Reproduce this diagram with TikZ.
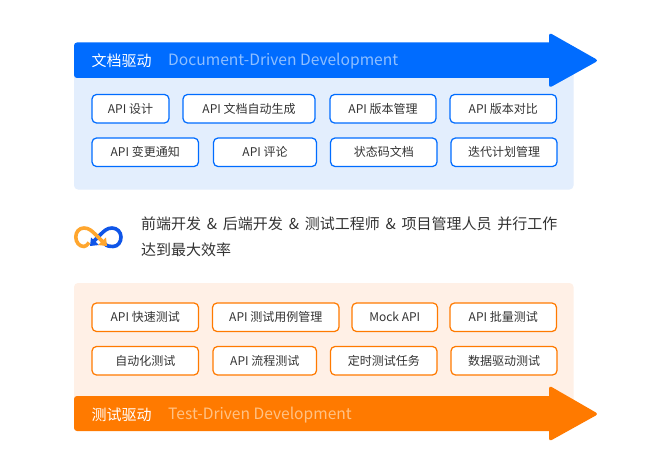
\documentclass[tikz,border=0pt]{standalone}
\usepackage{fontspec}
\setmainfont{Noto Sans CJK SC}
\usetikzlibrary{arrows.meta}
\definecolor{bl}{HTML}{006CFF}
\definecolor{or}{HTML}{FF7A00}
\definecolor{blp}{HTML}{E3EEFD}
\definecolor{orp}{HTML}{FFF0E6}
\definecolor{txt}{HTML}{333333}
\definecolor{ico}{HTML}{FFA62E}
\definecolor{icb}{HTML}{0F55E8}
\definecolor{bsub}{HTML}{8FBFFF}
\definecolor{osub}{HTML}{FFC285}
\tikzset{
 chip/.style={draw=#1,line width=1.25pt,fill=white,rounded corners=4.5pt,inner sep=0pt,
   font=\fontsize{12}{14}\selectfont,text=txt,anchor=center},
 headcn/.style={text=white,font=\fontsize{15}{18}\selectfont,inner sep=0pt,anchor=west},
 heade/.style={text=#1,font=\fontsize{15.6}{18}\selectfont,inner sep=0pt,anchor=west},
 body/.style={text=txt,font=\fontsize{15}{18}\selectfont,inner sep=0pt,anchor=west},
}
\newcommand{\wsp}{\hspace{5.8pt}}
\newcommand{\chipbox}[7]{% name colour x0 x1 y0 y1 text
  \node[chip=#2,minimum width=#4pt-#3pt,minimum height=#6pt-#5pt] (#1) at ({(#3+#4)/2},{(#5+#6)/2}) {\raisebox{-1.3pt}{#7}};}
\begin{document}
\begin{tikzpicture}[x=1pt,y=-1pt]
\useasboundingbox (0,0) rectangle (669,476);
\fill[white] (0,0) rectangle (669,476);
% panels
\fill[blp,rounded corners=4pt] (74,70) rectangle (573.5,189.5);
\fill[orp,rounded corners=4pt] (74,283) rectangle (573.5,405);
% arrows
\fill[bl,rounded corners=3pt] (80,42.5) -- (74,42.5) -- (74,78) -- (80,78) [sharp corners] -- (549,78)
  [rounded corners=3pt] -- (549,88) -- (598.5,60.5) -- (549,32.5) [sharp corners] -- (549,42.5) -- cycle;
\fill[or,rounded corners=3pt] (80,396) -- (74,396) -- (74,431) -- (80,431) [sharp corners] -- (549,431)
  [rounded corners=3pt] -- (549,441.5) -- (598.5,414) -- (549,385.5) [sharp corners] -- (549,396) -- cycle;
\node[headcn] (th) at (91.5,61) {文档驱动};
\node[heade=bsub] (te) at (168,61.5) {Document-Driven Development};
\node[headcn] (bh) at (91.5,414.5) {测试驱动};
\node[heade=osub] (be) at (168,415) {Test-Driven Development};
% blue chips
\chipbox{a1}{bl}{92}{169}{94.5}{123}{API 设计}
\chipbox{a2}{bl}{183}{315}{94.5}{123}{API 文档自动生成}
\chipbox{a3}{bl}{330}{436}{94.5}{123}{API 版本管理}
\chipbox{a4}{bl}{450}{556.5}{94.5}{123}{API 版本对比}
\chipbox{a5}{bl}{92}{198.5}{138}{166.5}{API 变更通知}
\chipbox{a6}{bl}{213.5}{316.5}{138}{166.5}{API 评论}
\chipbox{a7}{bl}{330.5}{437}{138}{166.5}{状态码文档}
\chipbox{a8}{bl}{451}{557}{138}{166.5}{迭代计划管理}
% orange chips
\chipbox{b1}{or}{92}{198.5}{303}{331.5}{API 快速测试}
\chipbox{b2}{or}{212.5}{339}{303}{331.5}{API 测试用例管理}
\chipbox{b3}{or}{352}{437.5}{303}{331.5}{Mock API}
\chipbox{b4}{or}{450}{556.5}{303}{331.5}{API 批量测试}
\chipbox{b5}{or}{92}{198.5}{346.5}{375}{自动化测试}
\chipbox{b6}{or}{213}{316.5}{346.5}{375}{API 流程测试}
\chipbox{b7}{or}{330.5}{437}{346.5}{375}{定时测试任务}
\chipbox{b8}{or}{451}{557}{346.5}{375}{数据驱动测试}
% middle text
\node[body] (m1) at (141,223.5) {前端开发\wsp{}\&\wsp{}后端开发\wsp{}\&\wsp{}测试工程师\wsp{}\&\wsp{}项目管理人员\wsp{}并行工作};
\node[body] (m2) at (141,249.5) {达到最大效率};
% infinity icon
\draw[icb,line width=3.6pt] (104.5,243.5) .. controls (107,246.5) and (110,246.5) .. (113,246.5)
   .. controls (118,246.5) and (121,242) .. (121,237) .. controls (121,232) and (117,228) .. (112,228)
   .. controls (107,228) and (104,231) .. (100,235) -- (93,242);
\fill[icb] (90,246) -- (91,237.5) -- (99,245) -- cycle;
\draw[ico,line width=3.6pt] (89,242.5) .. controls (87,245.5) and (85,246.5) .. (84,246.5)
   .. controls (79,246.5) and (75.8,242) .. (75.8,237) .. controls (75.8,232) and (79,228) .. (84,228)
   .. controls (89,228) and (92,231) .. (96,235) -- (103,242);
\fill[ico] (107,246) -- (106,237.5) -- (98,245) -- cycle;
\end{tikzpicture}
\end{document}
